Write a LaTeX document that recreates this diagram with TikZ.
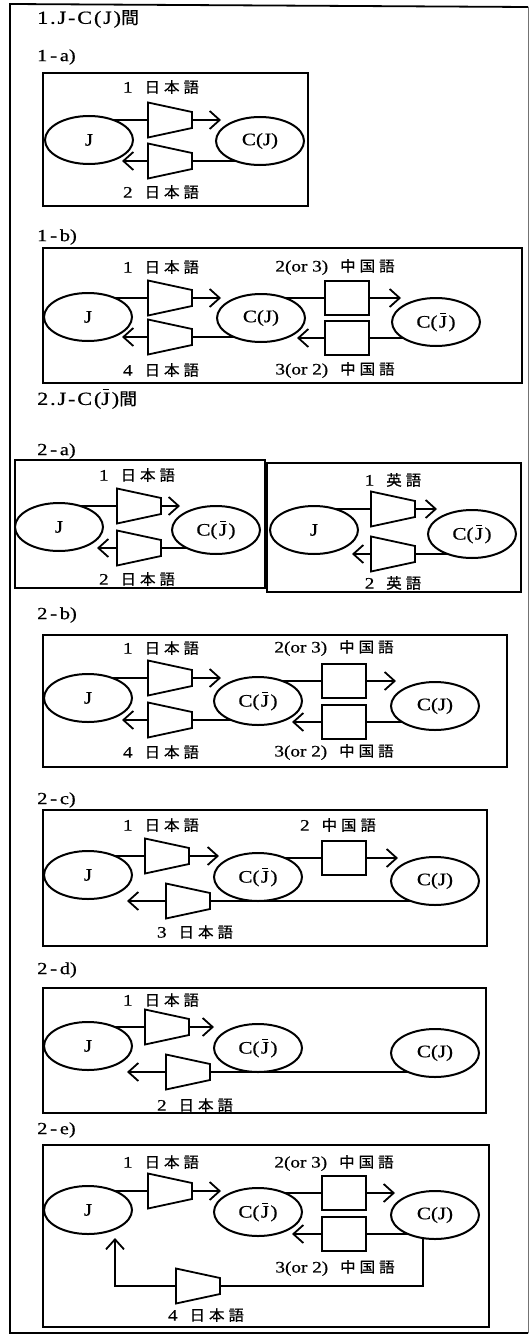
\documentclass[tikz,border=0pt]{standalone}
\usepackage{fontspec}
\setmainfont{Liberation Serif}[FakeStretch=1.2,FakeBold=0.6]
\newfontfamily\jpf{Noto Sans CJK JP}[Scale=0.92,FakeStretch=1.05,FakeBold=0.7]
\usetikzlibrary{arrows.meta,backgrounds,shapes.geometric}
\pgfdeclarelayer{paper}
\pgfsetlayers{paper,background,main}
\newcommand\myJA{{\jpf 日\hspace{4pt}本\hspace{4pt}語}}
\newcommand\myCH{{\jpf 中\hspace{4pt}国\hspace{4pt}語}}
\newcommand\myEN{{\jpf 英\hspace{4pt}語}}
\newcommand\myJbar{\leavevmode\makebox[0pt][l]{\hspace{1.2pt}\raisebox{0.8em}{\rule{0.34em}{0.05em}}}J}
\newcommand\myCJb{C(\kern1.5pt\myJbar\kern1.5pt)}
\tikzset{
  trapz/.pic={
    \draw[line width=1.8pt] (-22,-17.5) -- (22,-8) -- (22,8) -- (-22,17.5) -- cycle;
    \coordinate (-w) at (-22,0);
    \coordinate (-e) at (22,0);
  },
  ell/.style={ellipse, draw, line width=2pt, minimum width=88pt, minimum height=48pt,
    inner sep=0pt, fill=white, font=\fontsize{17.5}{19}\selectfont},
  sq/.style={rectangle, draw, line width=2pt, minimum width=44pt, minimum height=34pt,
    inner sep=0pt, fill=white},
  conn/.style={line width=1.8pt},
  arr/.style={conn, -{Straight Barb[length=10pt,width=18pt]}},
  panel/.style={line width=1.8pt},
  lab/.style={inner sep=0pt, font=\fontsize{16}{18}\selectfont},
  hdr/.style={inner sep=0pt, anchor=west, font=\fontsize{17}{20}\selectfont},
  bighdr/.style={inner sep=0pt, anchor=west, font=\fontsize{18.5}{21}\selectfont},
}
\begin{document}
\begin{tikzpicture}[x=1pt,y=-1pt]
\useasboundingbox (0,0) rectangle (530,1335);
\begin{pgfonlayer}{paper}
\fill[white] (0,0) rectangle (530,1335);
\end{pgfonlayer}
% outer frame
\draw[panel] (528,7) -- (10,4) -- (10,1333) -- (528,1333);
\draw[line width=0.8pt, black!55] (528,7) -- (528,1333);

% ---------- 1 ----------
\node[bighdr] (h1) at (37,19) {\addfontfeatures{LetterSpace=10}1.J-C(J)\jpf 間};

% 1-a
\node[hdr] (p1a) at (37,57) {1\,-\,a)};
\draw[panel] (43,73) rectangle (308,206);
\node[ell] (a-J) at (89,140) {J};
\node[ell] (a-C) at (260,141) {C(J)};
\pic (a-t1) at (170,120) {trapz};
\pic (a-t2) at (170,161) {trapz};
\node[lab] (a-l1) at (161,87) {1\hspace{12pt}\myJA};
\node[lab] (a-l2) at (161,192) {2\hspace{12pt}\myJA};
\draw[arr] (a-t1-e) -- ++(29,0);
\draw[arr] (a-t2-w) -- ++(-26,0);
\begin{scope}[on background layer]
\draw[conn] (a-J.center |- a-t1-w) -- (a-t1-w);
\draw[conn] (a-C.center |- a-t2-e) -- (a-t2-e);
\end{scope}

% 1-b
\node[hdr] (p1b) at (37,237) {1\,-\,b)};
\draw[panel] (43,248) rectangle (522,383);
\node[ell] (b-J) at (88,317) {J};
\node[ell] (b-C) at (261,318) {C(J)};
\node[ell] (b-D) at (436,322) {\myCJb};
\pic (b-t1) at (170,298) {trapz};
\pic (b-t2) at (170,337) {trapz};
\node[sq] (b-s1) at (347,298) {};
\node[sq] (b-s2) at (347,338) {};
\node[lab] (b-l1) at (161,267) {1\hspace{12pt}\myJA};
\node[lab] (b-l2) at (335,267) {2(or 3)\hspace{12pt}\myCH};
\node[lab] (b-l3) at (161,370) {4\hspace{12pt}\myJA};
\node[lab] (b-l4) at (335,370) {3(or 2)\hspace{12pt}\myCH};
\draw[arr] (b-t1-e) -- ++(29,0);
\draw[arr] (b-s1.east) -- ++(31,0);
\draw[arr] (b-s2.west) -- ++(-27,0);
\draw[arr] (b-t2-w) -- ++(-26,0);
\begin{scope}[on background layer]
\draw[conn] (b-J.center |- b-t1-w) -- (b-t1-w);
\draw[conn] (b-C.center |- b-s1.west) -- (b-s1.west);
\draw[conn] (b-D.center |- b-s2.east) -- (b-s2.east);
\draw[conn] (b-C.center |- b-t2-e) -- (b-t2-e);
\end{scope}

% ---------- 2 ----------
\node[bighdr] (h2) at (37,399) {\addfontfeatures{LetterSpace=10}2.J-C(\myJbar)\jpf 間};

% 2-a
\node[hdr] (p2a) at (37,451) {2\,-\,a)};
\draw[panel] (15,460) rectangle (265,588);
\node[ell] (c-J) at (59,527) {J};
\node[ell] (c-D) at (216,530) {\myCJb};
\pic (c-t1) at (139,506) {trapz};
\pic (c-t2) at (139,548) {trapz};
\node[lab] (c-l1) at (137,475) {1\hspace{12pt}\myJA};
\node[lab] (c-l2) at (137,579) {2\hspace{12pt}\myJA};
\draw[arr] (c-t1-e) -- ++(19,0);
\draw[arr] (c-t2-w) -- ++(-20,0);
\begin{scope}[on background layer]
\draw[conn] (c-J.center |- c-t1-w) -- (c-t1-w);
\draw[conn] (c-D.center |- c-t2-e) -- (c-t2-e);
\end{scope}

\draw[panel] (267,463) rectangle (521,592);
\node[ell] (d-J) at (314,530) {J};
\node[ell] (d-D) at (472,534) {\myCJb};
\pic (d-t1) at (393,509) {trapz};
\pic (d-t2) at (393,554) {trapz};
\node[lab] (d-l1) at (393,480) {1\hspace{12pt}\myEN};
\node[lab] (d-l2) at (393,583) {2\hspace{12pt}\myEN};
\draw[arr] (d-t1-e) -- ++(22,0);
\draw[arr] (d-t2-w) -- ++(-19,0);
\begin{scope}[on background layer]
\draw[conn] (d-J.center |- d-t1-w) -- (d-t1-w);
\draw[conn] (d-D.center |- d-t2-e) -- (d-t2-e);
\end{scope}

% 2-b
\node[hdr] (p2b) at (37,615) {2\,-\,b)};
\draw[panel] (43,635) rectangle (507,767);
\node[ell] (e-J) at (88,698) {J};
\node[ell] (e-D) at (258,701) {\myCJb};
\node[ell] (e-C) at (435,706) {C(J)};
\pic (e-t1) at (170,678) {trapz};
\pic (e-t2) at (170,720) {trapz};
\node[sq] (e-s1) at (344,681) {};
\node[sq] (e-s2) at (344,722) {};
\node[lab] (e-l1) at (161,648) {1\hspace{12pt}\myJA};
\node[lab] (e-l2) at (334,648) {2(or 3)\hspace{12pt}\myCH};
\node[lab] (e-l3) at (161,752) {4\hspace{12pt}\myJA};
\node[lab] (e-l4) at (334,752) {3(or 2)\hspace{12pt}\myCH};
\draw[arr] (e-t1-e) -- ++(29,0);
\draw[arr] (e-s1.east) -- ++(29,0);
\draw[arr] (e-s2.west) -- ++(-29,0);
\draw[arr] (e-t2-w) -- ++(-26,0);
\begin{scope}[on background layer]
\draw[conn] (e-J.center |- e-t1-w) -- (e-t1-w);
\draw[conn] (e-D.center |- e-s1.west) -- (e-s1.west);
\draw[conn] (e-C.center |- e-s2.east) -- (e-s2.east);
\draw[conn] (e-D.center |- e-t2-e) -- (e-t2-e);
\end{scope}

% 2-c
\node[hdr] (p2c) at (37,800) {2\,-\,c)};
\draw[panel] (43,810) rectangle (487,946);
\node[ell] (f-J) at (88,875) {J};
\node[ell] (f-D) at (258,877) {\myCJb};
\node[ell] (f-C) at (435,881) {C(J)};
\pic (f-t1) at (167,856) {trapz};
\node[sq] (f-s1) at (344,858) {};
\pic (f-t2) at (188,901) {trapz};
\node[lab] (f-l1) at (161,825) {1\hspace{12pt}\myJA};
\node[lab] (f-l2) at (338,825) {2\hspace{12pt}\myCH};
\node[lab] (f-l3) at (195,932) {3\hspace{12pt}\myJA};
\draw[arr] (f-t1-e) -- ++(30,0);
\draw[arr] (f-s1.east) -- ++(31,0);
\draw[arr] (f-t2-w) -- ++(-39,0);
\begin{scope}[on background layer]
\draw[conn] (f-J.center |- f-t1-w) -- (f-t1-w);
\draw[conn] (f-D.center |- f-s1.west) -- (f-s1.west);
\draw[conn] (f-C.center |- f-t2-e) -- (f-t2-e);
\end{scope}

% 2-d
\node[hdr] (p2d) at (37,970) {2\,-\,d)};
\draw[panel] (43,988) rectangle (486,1113);
\node[ell] (g-J) at (88,1046) {J};
\node[ell] (g-D) at (258,1048) {\myCJb};
\node[ell] (g-C) at (435,1053) {C(J)};
\pic (g-t1) at (167,1027) {trapz};
\pic (g-t2) at (188,1072) {trapz};
\node[lab] (g-l1) at (161,1000) {1\hspace{12pt}\myJA};
\node[lab] (g-l2) at (195,1105) {2\hspace{12pt}\myJA};
\draw[arr] (g-t1-e) -- ++(25,0);
\draw[arr] (g-t2-w) -- ++(-39,0);
\begin{scope}[on background layer]
\draw[conn] (g-J.center |- g-t1-w) -- (g-t1-w);
\draw[conn] (g-C.center |- g-t2-e) -- (g-t2-e);
\end{scope}

% 2-e
\node[hdr] (p2e) at (37,1130) {2\,-\,e)};
\draw[panel] (43,1145) rectangle (489,1327);
\node[ell] (k-J) at (88,1210) {J};
\node[ell] (k-D) at (258,1212) {\myCJb};
\node[ell] (k-C) at (435,1215) {C(J)};
\pic (k-t1) at (170,1191) {trapz};
\node[sq] (k-s1) at (344,1193) {};
\node[sq] (k-s2) at (344,1234) {};
\pic (k-t2) at (198,1286) {trapz};
\coordinate (k-end) at (115,1238);
\node[lab] (k-l1) at (161,1162) {1\hspace{12pt}\myJA};
\node[lab] (k-l2) at (334,1163) {2(or 3)\hspace{12pt}\myCH};
\node[lab] (k-l3) at (335,1268) {3(or 2)\hspace{12pt}\myCH};
\node[lab] (k-l4) at (206,1315) {4\hspace{12pt}\myJA};
\draw[arr] (k-t1-e) -- ++(29,0);
\draw[arr] (k-s1.east) -- ++(28,0);
\draw[arr] (k-s2.west) -- ++(-29,0);
\draw[arr] (k-t2-w) -| (k-end);
\begin{scope}[on background layer]
\draw[conn] (k-J.center |- k-t1-w) -- (k-t1-w);
\draw[conn] (k-D.center |- k-s1.west) -- (k-s1.west);
\draw[conn] (k-C.center |- k-s2.east) -- (k-s2.east);
\draw[conn] ([xshift=-12pt]k-C.center) |- (k-t2-e);
\end{scope}
\end{tikzpicture}
\end{document}
